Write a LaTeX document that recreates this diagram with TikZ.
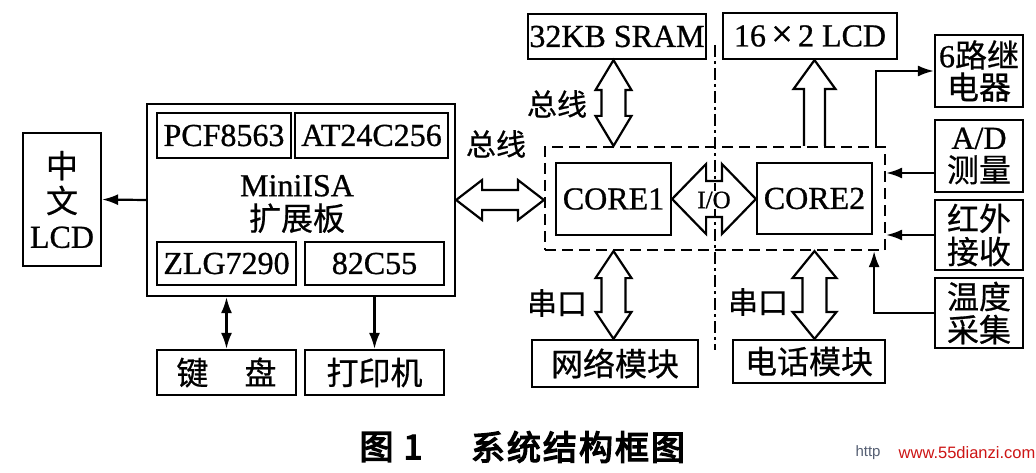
\documentclass[tikz,border=0pt]{standalone}
\usepackage{fontspec}
\setmainfont{Liberation Serif}[FakeBold=0.8]
\newfontfamily\cjk[FakeBold=0.6]{Noto Sans CJK SC}
\newfontfamily\cjkb[FakeBold=4]{Noto Sans CJK SC}
\newfontfamily\wmfont{Liberation Sans}
\usetikzlibrary{arrows.meta,calc}
\newcommand\zh[1]{{\cjk #1}}
\definecolor{wmred}{RGB}{205,20,20}
\definecolor{wmgray}{RGB}{85,95,115}
% vertical hollow double arrow: top, bottom, shaft half, head half, head length
\newcommand\fatvd[5]{\draw[fat] let \p1=#1, \p2=#2 in
 (\x1,\y1) -- ({\x1+#4pt},{\y1-#5pt}) -- ({\x1+#3pt},{\y1-#5pt}) -- ({\x1+#3pt},{\y2+#5pt})
 -- ({\x1+#4pt},{\y2+#5pt}) -- (\x1,\y2) -- ({\x1-#4pt},{\y2+#5pt}) -- ({\x1-#3pt},{\y2+#5pt})
 -- ({\x1-#3pt},{\y1-#5pt}) -- ({\x1-#4pt},{\y1-#5pt}) -- cycle;}
% horizontal hollow double arrow: left, right, shaft half, head half, head length
\newcommand\fathd[5]{\draw[fat] let \p1=#1, \p2=#2 in
 (\x1,\y1) -- ({\x1+#5pt},{\y1+#4pt}) -- ({\x1+#5pt},{\y1+#3pt}) -- ({\x2-#5pt},{\y1+#3pt})
 -- ({\x2-#5pt},{\y1+#4pt}) -- (\x2,\y1) -- ({\x2-#5pt},{\y1-#4pt}) -- ({\x2-#5pt},{\y1-#3pt})
 -- ({\x1+#5pt},{\y1-#3pt}) -- ({\x1+#5pt},{\y1-#4pt}) -- cycle;}
% hollow single up arrow: tip, base, shaft half, head half, head length
\newcommand\fatup[5]{\draw[fat] let \p1=#1, \p2=#2 in
 ({\x1-#3pt},\y2) -- ({\x1-#3pt},{\y1-#5pt}) -- ({\x1-#4pt},{\y1-#5pt}) -- (\x1,\y1)
 -- ({\x1+#4pt},{\y1-#5pt}) -- ({\x1+#3pt},{\y1-#5pt}) -- ({\x1+#3pt},\y2);}
\begin{document}
\begin{tikzpicture}[x=1pt,y=-1pt,
  box/.style={draw, line width=2.2pt, inner sep=0pt, align=center, font=\fontsize{32}{32}\selectfont},
  arr/.style={line width=2.2pt, -{Latex[length=16pt,width=11pt]}},
  darr/.style={line width=2.2pt, {Latex[length=16pt,width=11pt]}-{Latex[length=16pt,width=11pt]}},
  fat/.style={line width=2.2pt, line join=miter},
  grpbox/.style={draw, line width=2.2pt, dash pattern=on 11pt off 6pt, inner sep=0pt},
  axisline/.style={line width=1.8pt, dash pattern=on 12pt off 4pt on 3pt off 4pt},
  lbl/.style={font=\fontsize{30}{30}\selectfont\cjk, inner sep=0pt}]
\fill[white] (0,0) rectangle (1036,473);
\useasboundingbox (0,0) rectangle (1036,473);

% left part
\node[box, minimum width=78pt, minimum height=133pt, font=\fontsize{32}{35}\selectfont] (lcdzh) at (62,199.5) {\zh{中}\\\zh{文}\\LCD};
\node[box, minimum width=308pt, minimum height=192pt] (mini) at (301,200) {};
\node[box, minimum width=134pt, minimum height=45pt] (pcf) at (224,135.5) {PCF8563};
\node[box, minimum width=153pt, minimum height=45pt] (at24) at (371.5,135.5) {AT24C256};
\node[box, minimum width=139pt, minimum height=43pt] (zlg) at (226.5,263.5) {ZLG7290};
\node[box, minimum width=139pt, minimum height=43pt] (c55) at (374.5,263.5) {82C55};
\node[align=center, inner sep=0pt, font=\fontsize{32}{34}\selectfont] (mtext) at (297,204) {MiniISA\\\zh{扩展板}};
\node[box, minimum width=139pt, minimum height=45pt] (kbd) at (226.5,372.5) {\zh{键}\hspace{36pt}\zh{盘}};
\node[box, minimum width=139pt, minimum height=45pt] (prn) at (374.5,372.5) {\zh{打印机}};

% right part
\node[grpbox, minimum width=340pt, minimum height=103pt] (grp) at (715,198.5) {};
\node[box, minimum width=178pt, minimum height=45pt] (sram) at (617,36.5) {32KB SRAM};
\node[box, minimum width=174pt, minimum height=46pt] (lcd16) at (810,36) {16\,{\fontsize{38}{38}\selectfont ×}\,2 LCD};
\node[box, minimum width=88pt, minimum height=72pt, font=\fontsize{32}{32}\selectfont] (relay) at (979,71) {6\zh{路继}\\\zh{电器}};
\node[box, minimum width=88pt, minimum height=72pt, font=\fontsize{32}{33}\selectfont] (ad) at (979,156) {A/D\\\zh{测量}};
\node[box, minimum width=88pt, minimum height=70pt, font=\fontsize{32}{33}\selectfont] (ir) at (979,235) {\zh{红外}\\\zh{接收}};
\node[box, minimum width=88pt, minimum height=70pt, font=\fontsize{32}{33}\selectfont] (temp) at (979,313) {\zh{温度}\\\zh{采集}};
\node[box, minimum width=115pt, minimum height=72pt] (core1) at (613.5,199) {CORE1};
\node[box, minimum width=115pt, minimum height=71pt] (core2) at (814.5,198.5) {CORE2};
\node[box, minimum width=166pt, minimum height=47pt] (net) at (615,363.5) {\zh{网络模块}};
\node[box, minimum width=152pt, minimum height=43pt] (phone) at (809,361.5) {\zh{电话模块}};

% labels
\node[lbl] (bus1) at (557,104) {总线};
\node[lbl] (bus2) at (496,144) {总线};
\node[lbl] (ser1) at (557,303) {串口};
\node[lbl] (ser2) at (758,302) {串口};

% thin connectors
\draw[arr] (mini.west) -- (lcdzh.east);
\draw[darr] (zlg.south |- mini.south) -- (kbd.north);
\draw[arr] (c55.south |- mini.south) -- (prn.north);
\draw[arr] ($(grp.north east)+(-10,0)$) |- (relay.west);
\draw[arr] ($(ad.west)+(0,17)$) -- ($(ad.west -| grp.east)+(0,17)$);
\draw[arr] (ir.west) -- (ir.west -| grp.east);
\draw[arr] (temp.west) -| ($(grp.south east)+(-12,0)$);

% hollow arrows
\fatvd{(core1.north |- sram.south)}{(core1.north |- grp.north)}{12}{18}{30}
\fathd{(mini.east)}{(grp.west |- mini.east)}{10}{20}{26}
\fathd{(core1.east)}{(core2.west |- core1.east)}{18}{35}{34}
\fatvd{(core1.south |- grp.south)}{(core1.south |- net.north)}{12}{18}{27}
\fatup{(core2.north |- lcd16.south)}{(core2.north |- grp.north)}{10.5}{21}{29}
\fatvd{(core2.south |- grp.south)}{(core2.south |- phone.north)}{12}{22}{27}

% dash-dot separator
\coordinate (dtop) at (715,45);
\coordinate (dbot) at (715,350);
\draw[axisline] (dtop) -- (dbot);
\node[inner sep=1pt, fill=white, font=\fontsize{25}{25}\selectfont] (io) at (714,200) {I/O};

% caption
\node[inner sep=0pt, font=\fontsize{34}{34}\selectfont\cjkb] (cap1) at (391,447) {图\hspace{10pt}1};
\node[inner sep=0pt, font=\fontsize{34}{34}\selectfont\cjkb] (cap2) at (578,447) {系\kern2pt 统\kern2pt 结\kern2pt 构\kern2pt 框\kern2pt 图};
\node[inner sep=0pt, font=\fontsize{15}{15}\selectfont\wmfont, text=wmgray] (wm1) at (868,453) {http};
\node[inner sep=0pt, font=\fontsize{16.5}{16.5}\selectfont\wmfont, text=wmred] (wm2) at (967,453) {www.55dianzi.com};
\end{tikzpicture}
\end{document}
